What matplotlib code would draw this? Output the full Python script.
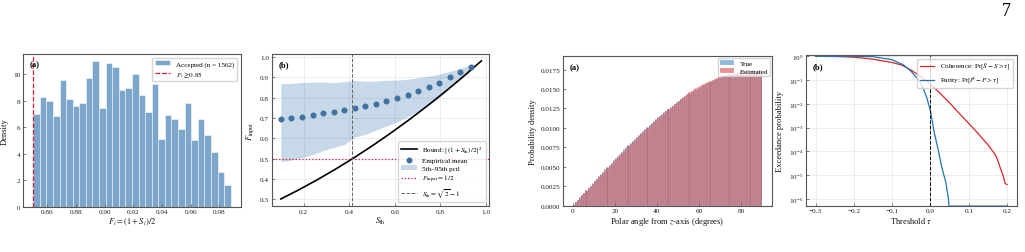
import numpy as np
import matplotlib
matplotlib.use("Agg")
import matplotlib.pyplot as plt
from matplotlib.ticker import LogLocator, NullLocator

plt.rcParams["font.family"] = ["Liberation Serif", "DejaVu Serif"]
plt.rcParams["mathtext.fontset"] = "stix"
plt.rcParams["axes.edgecolor"] = "#555555"
plt.rcParams["axes.linewidth"] = 0.8
plt.rcParams["xtick.direction"] = "in"
plt.rcParams["ytick.direction"] = "in"
plt.rcParams["xtick.major.size"] = 2
plt.rcParams["ytick.major.size"] = 2
plt.rcParams["xtick.major.width"] = 0.5
plt.rcParams["ytick.major.width"] = 0.5
plt.rcParams["xtick.color"] = "#555555"
plt.rcParams["ytick.color"] = "#555555"
plt.rcParams["xtick.labelcolor"] = "#222222"
plt.rcParams["ytick.labelcolor"] = "#222222"
plt.rcParams["axes.labelcolor"] = "#111111"

TICK = 5.2
LABEL = 6.1
LEG = 5.1

# ---- panel 1: fidelity histogram (density per bin) ----
fid_edges = np.linspace(0.85, 0.988, 31)
fid_density = [7.0, 8.3, 8.0, 6.85, 9.55, 8.15, 7.6, 7.85, 9.7, 11.0,
               7.45, 10.85, 10.6, 8.85, 9.0, 10.0, 8.45, 7.15, 9.3, 5.15,
               6.9, 6.6, 5.85, 7.85, 5.0, 6.6, 5.45, 4.15, 2.6, 1.6]
fid_threshold = 0.85

# ---- panel 2: input fidelity vs threshold ----
s_th = [0.100, 0.146, 0.193, 0.239, 0.285, 0.332, 0.378, 0.424, 0.471, 0.517,
        0.563, 0.610, 0.656, 0.702, 0.749, 0.795, 0.841, 0.888, 0.934]
emp_mean = [0.697, 0.700, 0.707, 0.714, 0.722, 0.728, 0.738, 0.748, 0.758, 0.769,
            0.784, 0.797, 0.812, 0.830, 0.851, 0.872, 0.899, 0.925, 0.948]
pct_hi = [0.868, 0.870, 0.874, 0.876, 0.876, 0.873, 0.878, 0.884, 0.880, 0.881,
          0.885, 0.886, 0.890, 0.898, 0.905, 0.915, 0.928, 0.945, 0.960]
pct_lo = [0.487, 0.493, 0.505, 0.520, 0.540, 0.555, 0.570, 0.605, 0.620, 0.640,
          0.660, 0.680, 0.705, 0.735, 0.765, 0.800, 0.845, 0.890, 0.935]
bound_s = [0.10, 0.18, 0.26, 0.34, 0.42, 0.50, 0.58, 0.66, 0.74, 0.82, 0.90, 0.98]
bound_f = [0.3025, 0.3481, 0.3969, 0.4489, 0.5041, 0.5625, 0.6241, 0.6889,
           0.7569, 0.8281, 0.9025, 0.9801]
s_crit = 0.4142

# ---- panel 3: polar angle histograms (units of 1e-4) ----
angle_edges = np.arange(0, 91, 1)
true_dens = [1.5, 4.6, 7.6, 10.7, 13.7, 16.7, 19.8, 22.8, 25.8, 28.8,
             31.8, 34.8, 37.8, 40.7, 43.7, 46.6, 49.6, 52.5, 55.4, 58.3,
             61.1, 64.0, 66.8, 69.6, 72.4, 75.1, 77.9, 80.6, 83.3, 85.9,
             88.6, 91.2, 93.8, 96.3, 98.9, 101.4, 103.8, 106.3, 108.7, 111.0,
             113.4, 115.7, 117.9, 120.1, 122.3, 124.5, 126.6, 128.7, 130.7, 132.7,
             134.7, 136.6, 138.5, 140.3, 142.1, 143.8, 145.5, 147.2, 148.8, 150.4,
             151.9, 153.4, 154.8, 156.2, 157.5, 158.8, 160.1, 161.3, 162.4, 163.5,
             164.5, 165.5, 166.5, 167.3, 168.2, 169.0, 169.7, 170.4, 171.0, 171.6,
             172.1, 172.6, 173.0, 173.4, 173.7, 174.0, 174.2, 174.4, 174.5, 174.5]
est_dens = [1.4, 4.5, 7.5, 10.5, 13.5, 16.5, 19.5, 22.4, 25.3, 28.2,
            31.2, 34.1, 37.0, 39.8, 42.6, 45.2, 48.0, 51.2, 54.0, 57.0,
            59.8, 62.6, 65.3, 68.0, 70.8, 73.5, 76.2, 79.0, 81.8, 84.4,
            87.0, 89.7, 92.3, 95.0, 97.6, 100.1, 102.5, 104.8, 107.2, 109.6,
            112.3, 114.8, 117.2, 119.7, 122.0, 124.3, 126.2, 128.2, 130.1, 132.0,
            134.6, 137.0, 139.4, 141.6, 143.7, 145.7, 147.6, 149.4, 151.1, 152.7,
            154.2, 155.6, 157.0, 158.2, 159.4, 160.6, 161.9, 163.0, 164.1, 165.0,
            165.7, 166.5, 167.3, 168.0, 168.8, 169.5, 170.2, 170.8, 171.4, 172.0,
            172.5, 173.0, 173.3, 173.7, 174.0, 174.3, 174.5, 174.7, 174.8, 174.8]

# ---- panel 4: exceedance probabilities ----
tau_coh = [-0.30, -0.25, -0.20, -0.15, -0.10, -0.075, -0.05, -0.025, 0.0, 0.025,
           0.05, 0.075, 0.10, 0.125, 0.15, 0.165, 0.172, 0.176, 0.18, 0.183,
           0.186, 0.19, 0.195, 0.20]
p_coh = [1.0, 0.985, 0.92, 0.76, 0.55, 0.43, 0.26, 0.14, 0.068, 0.028,
         0.011, 0.0040, 0.0015, 0.00055, 0.00019, 9e-5, 6e-5, 4e-5, 2.6e-5, 1.8e-5,
         1.4e-5, 9e-6, 4.5e-6, 4e-6]
tau_pur = [-0.30, -0.20, -0.15, -0.10, -0.07, -0.05, -0.03, -0.02, -0.01, 0.0,
           0.01, 0.02, 0.03, 0.04, 0.047, 0.048, 0.20]
p_pur = [1.0, 1.0, 0.97, 0.72, 0.43, 0.23, 0.095, 0.05, 0.019, 0.005,
         6e-4, 1.2e-4, 2e-5, 5e-6, 1e-6, 5e-7, 5e-7]

fig = plt.figure(figsize=(10.25, 2.53), dpi=100)
ax1 = fig.add_axes([0.0227, 0.1798, 0.2121, 0.6028])
ax2 = fig.add_axes([0.2651, 0.1818, 0.2123, 0.6008])
ax3 = fig.add_axes([0.5496, 0.1830, 0.2031, 0.5905])
ax4 = fig.add_axes([0.7863, 0.1830, 0.2056, 0.5957])

for ax in (ax1, ax2, ax3, ax4):
    ax.tick_params(labelsize=TICK, pad=2)

# panel 1
widths = np.diff(fid_edges)
bars = ax1.bar(fid_edges[:-1], fid_density, width=widths, align="edge",
               color="steelblue", alpha=0.7, edgecolor="white", linewidth=0.5)
thr = ax1.axvline(fid_threshold, color="crimson", ls="--", lw=0.9)
ax1.set_xlim(0.8431, 0.9949)
ax1.set_ylim(0, 11.55)
ax1.set_xticks([0.86, 0.88, 0.90, 0.92, 0.94, 0.96, 0.98])
ax1.set_xticklabels(["0.86", "0.88", "0.90", "0.92", "0.94", "0.96", "0.98"])
ax1.set_yticks([0, 2, 4, 6, 8, 10])
ax1.set_xlabel(r"$F_i = (1 + S_i)/2$", fontsize=LABEL, labelpad=1)
ax1.set_ylabel("Density", fontsize=LABEL, labelpad=3)
ax1.legend([bars, thr], ["Accepted (n = 1562)", r"$F_i \geq 0.85$"],
           loc="upper right", fontsize=LEG, handlelength=2.2, borderpad=0.4,
           labelspacing=0.3)
ax1.text(0.03, 0.93, "(a)", transform=ax1.transAxes, fontsize=LABEL,
         fontweight="bold", va="center")

# panel 2
ax2.grid(True, color="#e6e6e6", lw=0.5)
ax2.set_axisbelow(True)
band = ax2.fill_between(s_th, pct_lo, pct_hi, color="steelblue", alpha=0.3, lw=0)
(bound,) = ax2.plot(bound_s, bound_f, color="black", lw=1.2)
pts = ax2.scatter(s_th, emp_mean, s=11, color="#41719f", zorder=3)
half = ax2.axhline(0.5, color="crimson", ls=":", lw=0.9)
crit = ax2.axvline(s_crit, color="#666666", ls="--", lw=0.7)
ax2.set_xlim(0.06, 1.015)
ax2.set_ylim(0.268, 1.014)
ax2.set_xticks([0.2, 0.4, 0.6, 0.8, 1.0])
ax2.set_yticks([0.3, 0.4, 0.5, 0.6, 0.7, 0.8, 0.9, 1.0])
ax2.set_xlabel(r"$S_{\rm th}$", fontsize=LABEL, labelpad=1)
ax2.set_ylabel(r"$F_{\rm input}$", fontsize=LABEL, labelpad=3)
ax2.legend([bound, pts, band, half, crit],
           [r"Bound: $[(1+S_{\rm th})/2]^2$", "Empirical mean",
            "5th\u201395th pctl", r"$F_{\rm input} = 1/2$",
            r"$S_{\rm th} = \sqrt{2} - 1$"],
           loc="lower right", fontsize=LEG, handlelength=2.2, borderpad=0.4,
           labelspacing=0.3)
ax2.text(0.03, 0.934, "(b)", transform=ax2.transAxes, fontsize=LABEL,
         fontweight="bold", va="center")

# panel 3
ax3.bar(angle_edges[:-1], np.array(true_dens) * 1e-4, width=1, align="edge",
        color="tab:blue", alpha=0.5, edgecolor="white", linewidth=0.2,
        label="True")
ax3.bar(angle_edges[:-1], np.array(est_dens) * 1e-4, width=1, align="edge",
        color="tab:red", alpha=0.5, edgecolor="white", linewidth=0.2,
        label="Estimated")
ax3.set_xlim(-4.5, 94.5)
ax3.set_ylim(0, 0.0192)
ax3.set_xticks([0, 20, 40, 60, 80])
ax3.set_yticks([0.0, 0.0025, 0.005, 0.0075, 0.01, 0.0125, 0.015, 0.0175])
ax3.set_yticklabels(["0.0000", "0.0025", "0.0050", "0.0075", "0.0100",
                     "0.0125", "0.0150", "0.0175"])
ax3.set_xlabel(r"Polar angle from $z$-axis (degrees)", fontsize=LABEL, labelpad=1)
ax3.set_ylabel("Probability density", fontsize=LABEL, labelpad=3)
ax3.legend(loc="upper right", fontsize=LEG, borderpad=0.3, labelspacing=0.3,
           handlelength=2.0, borderaxespad=0.2)
ax3.text(0.032, 0.926, "(a)", transform=ax3.transAxes, fontsize=LABEL,
         fontweight="bold", va="center")

# panel 4
ax4.grid(True, color="#e6e6e6", lw=0.5)
ax4.set_axisbelow(True)
ax4.plot(tau_coh, p_coh, color="tab:red", lw=0.9,
         label=r"Coherence: Pr$[\hat{S} - S > \tau]$")
ax4.plot(tau_pur, p_pur, color="tab:blue", lw=0.9,
         label=r"Purity: Pr$[\hat{P} - P > \tau]$")
ax4.axvline(0.0, color="black", ls="--", lw=0.7)
ax4.set_yscale("log")
ax4.set_xlim(-0.325, 0.225)
ax4.set_ylim(5.2e-7, 1.14)
ax4.yaxis.set_major_locator(LogLocator(base=10, numticks=10))
ax4.yaxis.set_minor_locator(NullLocator())
ax4.set_xticks([-0.3, -0.2, -0.1, 0.0, 0.1, 0.2])
ax4.set_xticklabels(["\u22120.3", "\u22120.2", "\u22120.1", "0.0", "0.1", "0.2"])
ax4.set_xlabel(r"Threshold $\tau$", fontsize=LABEL, labelpad=1)
ax4.set_ylabel("Exceedance probability", fontsize=LABEL, labelpad=3)
ax4.legend(loc="upper right", fontsize=LEG, borderpad=0.4, labelspacing=0.3,
           handlelength=2.0)
ax4.text(0.033, 0.926, "(b)", transform=ax4.transAxes, fontsize=LABEL,
         fontweight="bold", va="center")

fig.text(0.982, 0.955, "7", fontsize=13, ha="center", va="center")

fig.savefig("out.png", dpi=100)
